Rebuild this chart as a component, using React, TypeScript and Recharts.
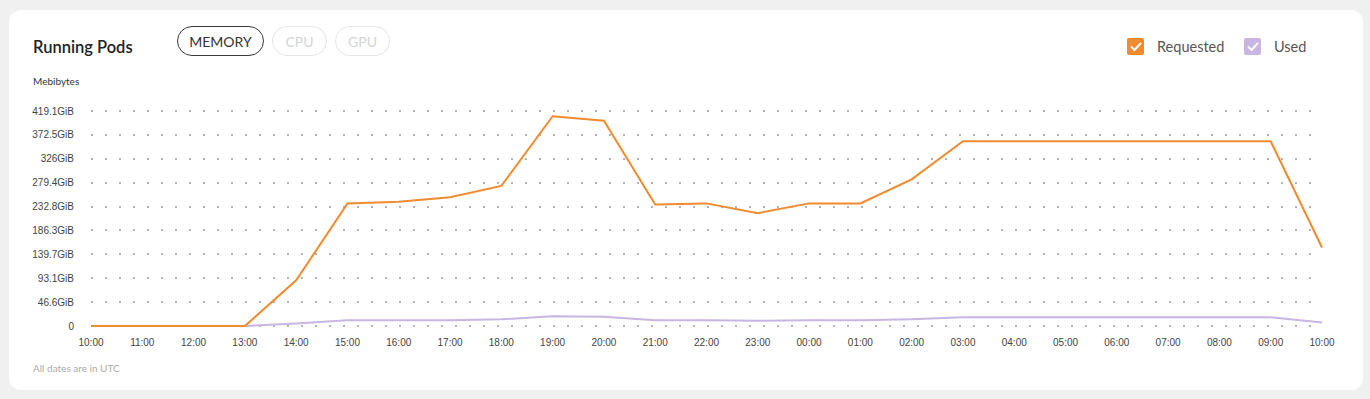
import React from "react";
import { LineChart, Line, XAxis, YAxis, CartesianGrid } from "recharts";

const hours = [
  "10:00", "11:00", "12:00", "13:00", "14:00", "15:00", "16:00", "17:00", "18:00",
  "19:00", "20:00", "21:00", "22:00", "23:00", "00:00", "01:00", "02:00", "03:00",
  "04:00", "05:00", "06:00", "07:00", "08:00", "09:00", "10:00",
];

const requested = [
  0, 0, 0, 0, 89, 239, 242, 251, 273, 409, 400, 237, 239, 220, 239, 239, 286, 360,
  360, 360, 360, 360, 360, 360, 153,
];

const used = [
  0, 0, 0, 0, 5, 11, 11, 11, 13, 19, 18, 11, 11, 10, 11, 11, 13, 17, 17, 17, 17, 17,
  17, 17, 7,
];

const yTicks = [0, 46.6, 93.1, 139.7, 186.3, 232.8, 279.4, 326, 372.5, 419.1];

const ORANGE = "#f28a2e";
const PURPLE = "#c9b5e2";
const headFont = "Lato, 'Noto Sans', sans-serif";
const tickFont = "'Liberation Sans', Arial, sans-serif";

const data = hours.map((t, i) => ({ t, requested: requested[i], used: used[i] }));

function Pill({ label, active, left, width }: { label: string; active: boolean; left: number; width: number }) {
  return (
    <div
      style={{
        position: "absolute",
        left,
        top: 26,
        width,
        height: 30,
        boxSizing: "border-box",
        border: `1px solid ${active ? "#3a3a3a" : "#e6e6e6"}`,
        borderRadius: 15,
        display: "flex",
        alignItems: "center",
        justifyContent: "center",
        fontSize: 14,
        color: active ? "#333" : "#d4d4d4",
        fontFamily: headFont,
      }}
    >
      {label}
    </div>
  );
}

function Check({ left, color, label }: { left: number; color: string; label: string }) {
  return (
    <div style={{ position: "absolute", left, top: 38, display: "flex", alignItems: "center" }}>
      <div style={{ width: 17, height: 17, borderRadius: 2, background: color, display: "flex", alignItems: "center", justifyContent: "center" }}>
        <svg width="12" height="10" viewBox="0 0 12 10">
          <path d="M1.5 5 L4.5 8 L10.5 1.5" stroke="#fff" strokeWidth="2" fill="none" strokeLinecap="round" strokeLinejoin="round" />
        </svg>
      </div>
      <span style={{ marginLeft: 13, fontSize: 14.5, color: "#555", fontFamily: headFont }}>{label}</span>
    </div>
  );
}

export default function App() {
  return (
    <div style={{ position: "relative", width: 1370, height: 399, background: "#eff0ef", overflow: "hidden" }}>
      <style>{"body{margin:0}"}</style>
      <div
        style={{
          position: "absolute",
          left: 9,
          top: 10,
          width: 1354,
          height: 380,
          background: "#fff",
          borderRadius: 12,
        }}
      />
      <div style={{ position: "absolute", left: 33, top: 37, fontSize: 16.5, fontWeight: 600, color: "#222", fontFamily: headFont }}>
        Running Pods
      </div>
      <Pill label="MEMORY" active left={177} width={87} />
      <Pill label="CPU" active={false} left={272} width={55} />
      <Pill label="GPU" active={false} left={335} width={55} />
      <Check left={1127} color={ORANGE} label="Requested" />
      <Check left={1244} color={PURPLE} label="Used" />
      <div style={{ position: "absolute", left: 33, top: 75, fontSize: 10, color: "#333", fontFamily: headFont }}>
        Mebibytes
      </div>
      <div style={{ position: "absolute", left: 33, top: 362, fontSize: 10, color: "#aaa", fontFamily: headFont }}>
        All dates are in UTC
      </div>
      <div style={{ position: "absolute", left: 0, top: 0 }}>
        <LineChart
          width={1370}
          height={399}
          data={data}
          margin={{ top: 111, right: 48, bottom: 43, left: 21 }}
        >
          <CartesianGrid
            vertical={false}
            stroke="#b4b4b4"
            strokeWidth={2}
            strokeDasharray="2 12"
            shapeRendering="crispEdges"
          />
          <XAxis
            dataKey="t"
            axisLine={false}
            tickLine={false}
            tickSize={0}
            tickMargin={13}
            interval={0}
            tick={{ fontSize: 10, fill: "#444", fontFamily: tickFont }}
          />
          <YAxis
            width={70}
            domain={[0, 419.1]}
            ticks={yTicks}
            axisLine={false}
            tickLine={false}
            tickSize={0}
            tickMargin={17}
            tickFormatter={(v: number) => (v === 0 ? "0" : `${v}GiB`)}
            tick={{ fontSize: 10, fill: "#444", fontFamily: tickFont }}
          />
          <Line type="linear" dataKey="used" stroke={PURPLE} strokeWidth={2} dot={false} isAnimationActive={false} />
          <Line type="linear" dataKey="requested" stroke={ORANGE} strokeWidth={2} dot={false} isAnimationActive={false} />
        </LineChart>
      </div>
    </div>
  );
}
